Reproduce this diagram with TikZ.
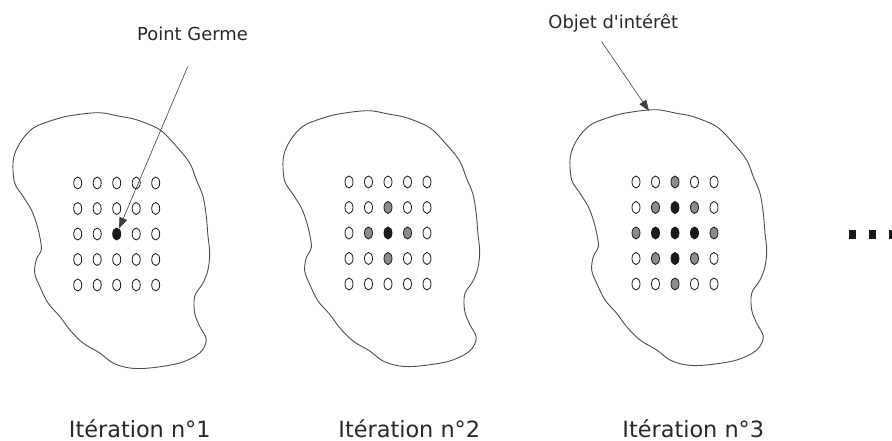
\documentclass[tikz,border=0pt]{standalone}
\usepackage{fontspec}
\setmainfont{DejaVu Sans}
\usetikzlibrary{shapes.geometric,arrows.meta}
\definecolor{dotgray}{RGB}{140,140,140}
\definecolor{dotblack}{RGB}{25,25,25}
\definecolor{txt}{RGB}{40,40,40}
\expandafter\def\csname fc1-3-3\endcsname{dotblack}
\expandafter\def\csname fc2-2-3\endcsname{dotgray}
\expandafter\def\csname fc2-3-2\endcsname{dotgray}
\expandafter\def\csname fc2-3-3\endcsname{dotblack}
\expandafter\def\csname fc2-3-4\endcsname{dotgray}
\expandafter\def\csname fc2-4-3\endcsname{dotgray}
\expandafter\def\csname fc3-1-3\endcsname{dotgray}
\expandafter\def\csname fc3-2-2\endcsname{dotgray}
\expandafter\def\csname fc3-2-3\endcsname{dotblack}
\expandafter\def\csname fc3-2-4\endcsname{dotgray}
\expandafter\def\csname fc3-3-1\endcsname{dotgray}
\expandafter\def\csname fc3-3-2\endcsname{dotblack}
\expandafter\def\csname fc3-3-3\endcsname{dotblack}
\expandafter\def\csname fc3-3-4\endcsname{dotblack}
\expandafter\def\csname fc3-3-5\endcsname{dotgray}
\expandafter\def\csname fc3-4-2\endcsname{dotgray}
\expandafter\def\csname fc3-4-3\endcsname{dotblack}
\expandafter\def\csname fc3-4-4\endcsname{dotgray}
\expandafter\def\csname fc3-5-3\endcsname{dotgray}
\begin{document}
\begin{tikzpicture}[x=1pt,y=-1pt,
  dot/.style={ellipse,draw=black!90,line width=0.8pt,minimum width=8pt,minimum height=12pt,inner sep=0pt},
  blob/.style={draw=black!70,line width=0.9pt},
  lbl/.style={inner sep=0pt,anchor=base,text=txt,font=\fontsize{17.9}{20}\selectfont},
  big/.style={inner sep=0pt,anchor=base,text=txt,font=\fontsize{22.4}{26}\selectfont},
  arr/.style={draw=black!75,line width=0.6pt,-{Triangle[length=11pt,width=8pt]}},
  sq/.style={rectangle,fill=dotblack,minimum width=6.5pt,minimum height=8.5pt,inner sep=0pt}]
\useasboundingbox (0,0) rectangle (892,441);
% objects
\foreach \dx/\dy in {-557/3,-287/1,0/0}{
  \draw[blob,shift={(\dx,\dy)}] plot[smooth cycle,tension=0.55] coordinates {
  (648.3,110)(632,112)(616.7,115)(593.3,123.3)(581.7,133.3)(573.3,146.7)(570,160)(571.7,180)
  (580,193.3)(588.3,206.7)(593.3,220)(596.7,233.3)(598.3,246.7)(593.3,256.7)(591.7,270)
  (596.7,283.3)(605,300)(616.7,313.3)(626.7,326.7)(640,340)(656.7,350)(670,360)(686.7,365)
  (706.7,365)(736.7,360)(756.7,350)(763.3,336.7)(756.7,323.3)(751.7,310)(751.7,293.3)
  (760,280)(765,266.7)(766.7,250)(765,233.3)(763.3,213.3)(760,193.3)(753.3,176.7)
  (746.7,160)(733.3,143.3)(716.7,126.7)(693.3,116.7)(676.7,113.3)(660,110)};
}
% grids
\foreach \k/\xo/\yo in {1/77.7/183,2/349/182,3/636/182}{
  \foreach \r in {1,...,5}{
    \foreach \c in {1,...,5}{
      \ifcsname fc\k-\r-\c\endcsname
        \edef\fc{\csname fc\k-\r-\c\endcsname}
      \else
        \def\fc{white}
      \fi
      \node[dot,fill=\fc] (g\k-\r-\c) at ({\xo+(\c-1)*19.5},{\yo+(\r-1)*25.5}) {};
    }
  }
}
% labels
\node[lbl] (pg) at (192.5,41) {Point Germe};
\node[lbl] (oi) at (613.3,28.3) {Objet d\textquotesingle intérêt};
\node[big] (it1) at (139.8,437) {Itération n°1};
\node[big] (it2) at (409.3,437) {Itération n°2};
\node[big] (it3) at (693.3,437) {Itération n°3};
% arrows
\coordinate (pgs) at (187.7,66.7);
\draw[arr] (pgs) -- (g1-3-3);
\coordinate (ois) at (601.7,41.7);
\coordinate (oit) at (649,111);
\draw[arr] (ois) -- (oit);
% ellipsis
\node[sq] (d1) at (852.5,234.5) {};
\node[sq] (d2) at (872.5,234.5) {};
\node[sq] (d3) at (891.8,234.5) {};
\end{tikzpicture}
\end{document}
